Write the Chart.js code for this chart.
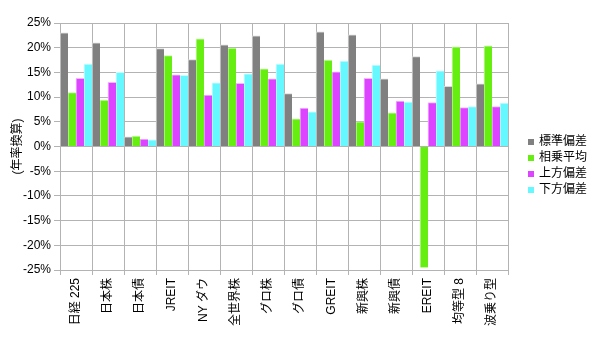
<!DOCTYPE html>
<html>
<head>
<meta charset="utf-8">
<script src="https://cdn.jsdelivr.net/npm/chart.js@4"></script>
<style>
  html, body { margin: 0; padding: 0; background: #fff; }
  #wrap { width: 600px; height: 337px; }
</style>
</head>
<body>
<div id="wrap"><canvas id="chart" width="600" height="337"></canvas></div>
<script>
  // 資産クラスごとのリスク・リターン（年率換算, %）
  const labels = ['日経 225', '日本株', '日本債', 'JREIT', 'NY ダウ', '全世界株', 'グロ株', 'グロ債', 'GREIT', '新興株', '新興債', 'EREIT', '均等型 8', '波乗り型'];
  const stdDev   = [23.0, 21.0, 1.95, 19.8, 17.6, 20.6, 22.4, 10.7, 23.2, 22.6, 13.7, 18.2, 12.2, 12.7];
  const geoMean  = [10.9, 9.4, 2.1, 18.4, 21.8, 19.9, 15.7, 5.6, 17.5, 5.0, 6.8, -24.5, 20.2, 20.4];
  const upDev    = [13.8, 13.0, 1.5, 14.5, 10.4, 12.8, 13.7, 7.8, 15.1, 13.8, 9.2, 8.9, 7.9, 8.1];
  const downDev  = [16.7, 15.0, 1.35, 14.4, 12.9, 14.7, 16.7, 7.0, 17.3, 16.5, 9.0, 15.3, 8.1, 8.8];
  const yTicks   = [25, 20, 15, 10, 5, 0, -5, -10, -15, -20, -25];

  const font = "'Liberation Sans', 'Noto Sans CJK JP', sans-serif";
  const gridColor = '#b3b3b3';

  const mkSet = (label, data, color, edge) => ({
    label: label,
    data: data,
    backgroundColor: color,
    borderColor: edge,
    borderWidth: { top: 1, left: 1, right: 0, bottom: 0 },
    categoryPercentage: 1.0,
    barPercentage: 1.0,
  });

  const data = {
    labels: labels,
    datasets: [
      mkSet('標準偏差', stdDev, '#808080', '#d8d8d8'),
      mkSet('相乗平均', geoMean, '#66ee11', '#c8f8a8'),
      mkSet('上方偏差', upDev, '#dd44ff', '#f0b8ff'),
      mkSet('下方偏差', downDev, '#66f8ff', '#c8fcff'),
    ]
  };

  // 凡例は右側に小さい四角＋ラベルで描く
  const sideLegend = {
    id: 'sideLegend',
    afterDraw(chart) {
      const ctx = chart.ctx;
      ctx.save();
      ctx.font = '12px ' + font;
      ctx.textBaseline = 'middle';
      chart.data.datasets.forEach((ds, i) => {
        const y = 142 + i * 16;
        ctx.fillStyle = ds.backgroundColor;
        ctx.fillRect(528, y - 3, 6, 6);
        ctx.fillStyle = '#000';
        ctx.fillText(ds.label, 539, y);
      });
      ctx.restore();
    }
  };

  const config = {
    type: 'bar',
    data: data,
    plugins: [sideLegend],
    options: {
      responsive: false,
      animation: false,
      layout: {
        padding: { top: 23, left: 10, right: 92, bottom: 0 }
      },
      plugins: {
        legend: { display: false },
        tooltip: { enabled: false }
      },
      scales: {
        x: {
          grid: { color: gridColor, offset: true, tickLength: 5 },
          border: { color: gridColor },
          ticks: {
            color: '#000',
            maxRotation: 90,
            minRotation: 90,
            padding: 3,
            font: { family: font, size: 12 }
          },
          afterFit: (s) => { s.height = 67; }
        },
        y: {
          min: -25,
          max: 25,
          afterBuildTicks: (s) => { s.ticks = yTicks.map(v => ({ value: v })); },
          grid: { color: gridColor, tickLength: 6 },
          border: { color: gridColor },
          ticks: {
            color: '#000',
            padding: 3,
            font: { family: font, size: 12 },
            callback: (v) => v + '%'
          },
          title: {
            display: true,
            text: '(年率換算)',
            color: '#000',
            padding: 0,
            font: { family: font, size: 12 }
          },
          afterFit: (s) => { s.width = 50; }
        }
      }
    }
  };

  new Chart(document.getElementById('chart'), config);
</script>
</body>
</html>
